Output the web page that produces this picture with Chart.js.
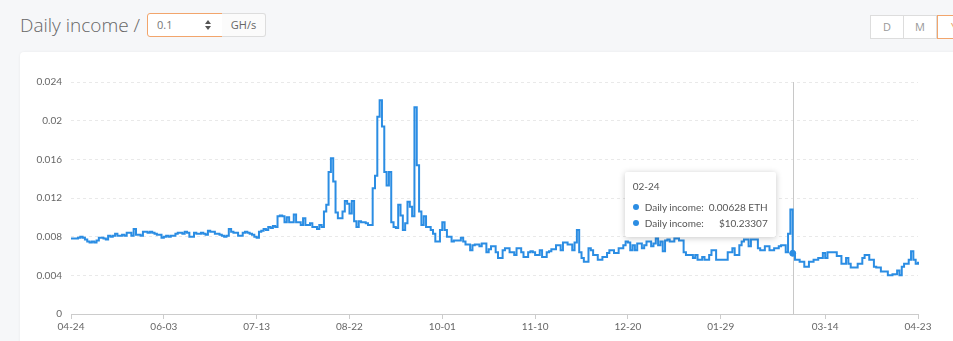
<!DOCTYPE html>
<html>
<head>
<meta charset="utf-8">
<script src="https://cdn.jsdelivr.net/npm/chart.js@4.4.1/dist/chart.umd.min.js"></script>
<style>
html, body { margin: 0; padding: 0; }
body { width: 953px; height: 341px; overflow: hidden; background: #f6f7f9; font-family: 'Open Sans', sans-serif; position: relative; }
.title { position: absolute; left: 20px; top: 10px; font-size: 19px; font-weight: 300; color: #666; line-height: 30px; }
.hash { position: absolute; left: 147px; top: 13px; width: 74px; height: 22px; border: 1px solid #f2a56c; border-radius: 3px 0 0 3px; background: #fff; }
.hash span { position: absolute; left: 9px; top: 0; font-size: 11px; line-height: 22px; color: #777; }
.spin { position: absolute; left: 57px; top: 6px; width: 0; height: 0; }
.spin i { position: absolute; left: 0; width: 0; height: 0; border-left: 3px solid transparent; border-right: 3px solid transparent; }
.spin .up { top: 0; border-bottom: 4px solid #555; }
.spin .dn { top: 6px; border-top: 4px solid #555; }
.unit { position: absolute; left: 222px; top: 13px; width: 43px; height: 22px; border: 1px solid #ddd; border-left: none; border-radius: 0 3px 3px 0; background: #fbfbfb; font-size: 11px; line-height: 22px; color: #666; text-align: center; }
.btns { position: absolute; left: 870px; top: 15px; height: 24px; display: flex; }
.btns div { width: 32px; height: 22px; border: 1px solid #ddd; background: #fff; font-size: 11px; line-height: 22px; color: #999; text-align: center; }
.btns div + div { border-left: none; }
.btns .on { border: 1px solid #f2a56c; color: #e8a060; }
.card { position: absolute; left: 20px; top: 52px; width: 950px; height: 300px; background: #fff; border-radius: 4px; box-shadow: 0 0 3px rgba(0,0,0,0.06); }
.chartbox { position: absolute; left: 0; top: 0; width: 933px; height: 289px; }
#tip { position: absolute; background: #fff; box-shadow: 0 1px 6px rgba(0,0,0,0.22); border-radius: 2px; padding: 8px 8px 6px 8px; width: 135px; font-family: Lato, sans-serif; font-size: 10px; color: #555; opacity: 0; pointer-events: none; }
#tip .t { margin-bottom: 6px; line-height: 13px; }
#tip .r { display: flex; align-items: center; line-height: 16px; }
#tip .d { width: 6px; height: 6px; border-radius: 50%; background: #2b8de3; margin-right: 6px; }
#tip .v { margin-left: auto; }
</style>
</head>
<body>
<div class="title">Daily income /</div>
<div class="hash"><span>0.1</span><div class="spin"><i class="up"></i><i class="dn"></i></div></div>
<div class="unit">GH/s</div>
<div class="btns"><div>D</div><div>M</div><div class="on">Y</div></div>
<div class="card">
  <div class="chartbox"><canvas id="incomeChart"></canvas></div>
  <div id="tip"></div>
</div>
<script>
// daily income (ETH) for 0.1 GH/s, from 2019-04-24 to 2020-04-23
const dailyIncome = [
  0.0078, 0.0078, 0.0078, 0.0079, 0.0080, 0.0079, 0.0077, 0.0075, 0.0074, 0.0075,
  0.0074, 0.0076, 0.0079, 0.0079, 0.0078, 0.0077, 0.0081, 0.0080, 0.0081, 0.0083,
  0.0081, 0.0081, 0.0082, 0.0081, 0.0084, 0.0084, 0.0081, 0.0088, 0.0082, 0.0082,
  0.0081, 0.0085, 0.0085, 0.0084, 0.0085, 0.0084, 0.0083, 0.0082, 0.0082, 0.0079,
  0.0080, 0.0081, 0.0080, 0.0081, 0.0081, 0.0083, 0.0084, 0.0084, 0.0083, 0.0085,
  0.0084, 0.0080, 0.0080, 0.0084, 0.0083, 0.0083, 0.0084, 0.0083, 0.0082, 0.0086,
  0.0085, 0.0085, 0.0083, 0.0083, 0.0082, 0.0081, 0.0080, 0.0081, 0.0088, 0.0085,
  0.0084, 0.0084, 0.0081, 0.0081, 0.0084, 0.0085, 0.0084, 0.0083, 0.0082, 0.0080,
  0.0079, 0.0085, 0.0086, 0.0088, 0.0087, 0.0090, 0.0089, 0.0091, 0.0090, 0.0101,
  0.0102, 0.0101, 0.0095, 0.0100, 0.0095, 0.0095, 0.0103, 0.0095, 0.0095, 0.0092,
  0.0099, 0.0092, 0.0092, 0.0094, 0.0090, 0.0090, 0.0088, 0.0092, 0.0090, 0.0106,
  0.0113, 0.0147, 0.0161, 0.0137, 0.0105, 0.0099, 0.0099, 0.0106, 0.0117, 0.0114,
  0.0104, 0.0117, 0.0096, 0.0090, 0.0096, 0.0095, 0.0095, 0.0094, 0.0092, 0.0092,
  0.0130, 0.0143, 0.0204, 0.0221, 0.0194, 0.0147, 0.0133, 0.0147, 0.0095, 0.0090,
  0.0089, 0.0113, 0.0102, 0.0087, 0.0094, 0.0116, 0.0111, 0.0101, 0.0214, 0.0154,
  0.0106, 0.0092, 0.0101, 0.0090, 0.0090, 0.0087, 0.0083, 0.0075, 0.0075, 0.0087,
  0.0095, 0.0087, 0.0080, 0.0080, 0.0075, 0.0076, 0.0076, 0.0076, 0.0079, 0.0075,
  0.0072, 0.0072, 0.0066, 0.0071, 0.0072, 0.0072, 0.0070, 0.0073, 0.0073, 0.0064,
  0.0067, 0.0070, 0.0070, 0.0064, 0.0058, 0.0058, 0.0066, 0.0068, 0.0068, 0.0064,
  0.0064, 0.0061, 0.0068, 0.0068, 0.0064, 0.0059, 0.0059, 0.0064, 0.0065, 0.0064,
  0.0061, 0.0061, 0.0066, 0.0059, 0.0059, 0.0064, 0.0065, 0.0067, 0.0067, 0.0071,
  0.0071, 0.0066, 0.0074, 0.0074, 0.0072, 0.0072, 0.0066, 0.0074, 0.0087, 0.0064,
  0.0058, 0.0054, 0.0054, 0.0068, 0.0066, 0.0061, 0.0061, 0.0056, 0.0056, 0.0059,
  0.0059, 0.0063, 0.0066, 0.0066, 0.0063, 0.0063, 0.0068, 0.0068, 0.0071, 0.0075,
  0.0074, 0.0066, 0.0071, 0.0066, 0.0073, 0.0073, 0.0068, 0.0071, 0.0075, 0.0075,
  0.0070, 0.0073, 0.0078, 0.0071, 0.0075, 0.0065, 0.0076, 0.0077, 0.0075, 0.0075,
  0.0078, 0.0078, 0.0076, 0.0076, 0.0064, 0.0061, 0.0061, 0.0061, 0.0058, 0.0061,
  0.0056, 0.0056, 0.0059, 0.0056, 0.0056, 0.0061, 0.0066, 0.0066, 0.0056, 0.0056,
  0.0056, 0.0056, 0.0056, 0.0064, 0.0064, 0.0068, 0.0061, 0.0061, 0.0071, 0.0075,
  0.0077, 0.0077, 0.0070, 0.0077, 0.0077, 0.0077, 0.0068, 0.0066, 0.0066, 0.0070,
  0.0070, 0.0066, 0.0066, 0.0068, 0.0068, 0.0070, 0.0071, 0.0071, 0.0064, 0.0083,
  0.0108, 0.00628, 0.0056, 0.0056, 0.0054, 0.0054, 0.0049, 0.0049, 0.0054, 0.0054,
  0.0056, 0.0056, 0.0058, 0.0058, 0.0063, 0.0058, 0.0064, 0.0064, 0.0064, 0.0064,
  0.0060, 0.0060, 0.0052, 0.0052, 0.0058, 0.0052, 0.0048, 0.0048, 0.0048, 0.0052,
  0.0052, 0.0058, 0.0061, 0.0061, 0.0056, 0.0056, 0.0049, 0.0048, 0.0048, 0.0044,
  0.0044, 0.0044, 0.0040, 0.0040, 0.0041, 0.0041, 0.0045, 0.0040, 0.0049, 0.0052,
  0.0052, 0.0056, 0.0065, 0.0056, 0.0052, 0.0054
];

const tickLabels = ['04-24', '06-03', '07-13', '08-22', '10-01', '11-10', '12-20', '01-29', '03-14', '04-23'];
const yTicks = [0, 0.004, 0.008, 0.012, 0.016, 0.02, 0.024];

// tooltip shown in the screenshot
const tipIndex = 311;
const tipTitle = '02-24';
const tipUsd = 10.23307;

// day labels MM-DD, one per value
const dates = [];
const start = new Date(2019, 3, 24);
for (let i = 0; i < dailyIncome.length; i++) {
  const d = new Date(start.getFullYear(), start.getMonth(), start.getDate() + i);
  dates.push(String(d.getMonth() + 1).padStart(2, '0') + '-' + String(d.getDate()).padStart(2, '0'));
}

const blue = '#2b8de3';
const font = { family: "Lato, sans-serif", size: 10 };
const tipEl = document.getElementById('tip');

function externalTip(context) {
  const t = context.tooltip;
  if (t.opacity === 0 || !t.dataPoints || !t.dataPoints.length) { tipEl.style.opacity = 0; return; }
  const v = t.dataPoints[0].raw;
  tipEl.innerHTML =
    '<div class="t">' + tipTitle + '</div>' +
    '<div class="r"><span class="d"></span>Daily income:<span class="v">' + v.toFixed(5) + ' ETH</span></div>' +
    '<div class="r"><span class="d"></span>Daily income:<span class="v">$' + tipUsd.toFixed(5) + '</span></div>';
  tipEl.style.left = (t.caretX - 168) + 'px';
  tipEl.style.top = (t.caretY - 81) + 'px';
  tipEl.style.opacity = 1;
}

const crosshair = {
  id: 'crosshair',
  beforeDatasetsDraw(chart) {
    const act = chart.tooltip.getActiveElements();
    if (!act.length) return;
    const x = Math.round(act[0].element.x) + 0.5;
    const ctx = chart.ctx;
    ctx.save();
    ctx.strokeStyle = '#c8c8c8';
    ctx.lineWidth = 1;
    ctx.beginPath();
    ctx.moveTo(x, chart.chartArea.top);
    ctx.lineTo(x, chart.chartArea.bottom);
    ctx.stroke();
    ctx.restore();
  }
};

const chart = new Chart(document.getElementById('incomeChart'), {
  type: 'line',
  data: {
    labels: dates,
    datasets: [{
      label: 'Daily income',
      data: dailyIncome,
      stepped: true,
      borderColor: blue,
      borderWidth: 2,
      pointRadius: 0,
      pointHoverRadius: 3,
      pointHoverBackgroundColor: blue,
      pointHoverBorderColor: blue,
      pointHoverBorderWidth: 1,
      fill: false
    }]
  },
  options: {
    responsive: true,
    maintainAspectRatio: false,
    animation: false,
    layout: { padding: { top: 30, right: 35, left: 0, bottom: 0 } },
    interaction: { mode: 'index', intersect: false },
    plugins: {
      legend: { display: false },
      tooltip: { enabled: false, external: externalTip }
    },
    scales: {
      x: {
        offset: false,
        grid: {
          drawOnChartArea: false,
          tickLength: 5,
          color: c => (c.tick && c.tick.label) ? '#cccccc' : 'rgba(0,0,0,0)'
        },
        border: { color: '#cccccc' },
        ticks: {
          autoSkip: false,
          maxRotation: 0,
          padding: 2,
          color: '#666',
          font: font,
          callback(v) {
            const l = this.getLabelForValue(v);
            return tickLabels.includes(l) ? l : '';
          }
        },
        afterFit(s) { s.height = 27; }
      },
      y: {
        min: 0,
        max: 0.024,
        afterBuildTicks(s) { s.ticks = yTicks.map(v => ({ value: v })); },
        grid: { color: '#e9e9e9', drawTicks: false },
        border: { display: false, dash: [3, 3] },
        ticks: { padding: 9, color: '#666', font: font, callback: v => String(Number(v.toFixed(3))) },
        afterFit(s) { s.width = 51; }
      }
    }
  },
  plugins: [crosshair]
});

const pt = chart.getDatasetMeta(0).data[tipIndex];
chart.setActiveElements([{ datasetIndex: 0, index: tipIndex }]);
chart.tooltip.setActiveElements([{ datasetIndex: 0, index: tipIndex }], { x: pt.x, y: pt.y });
chart.update();
</script>
</body>
</html>
